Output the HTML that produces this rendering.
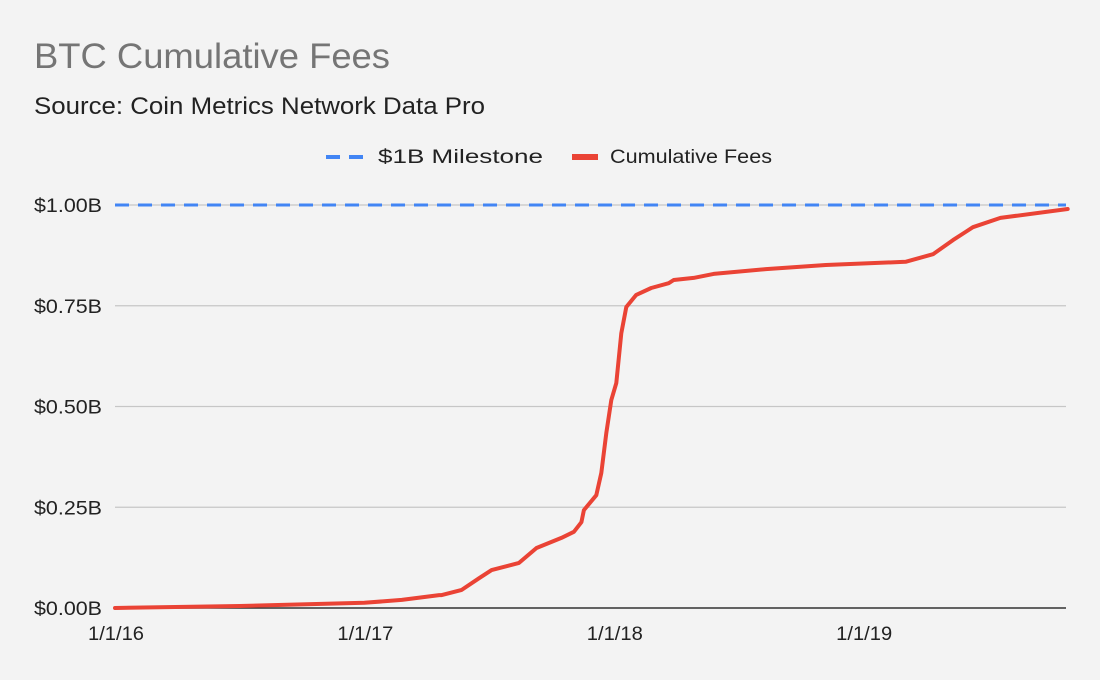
<!DOCTYPE html>
<html><head><meta charset="utf-8">
<style>
body{margin:0;background:#f3f3f3;font-family:"Liberation Sans",Arial,sans-serif;}
svg{display:block}
</style></head>
<body>
<svg id="chart" width="1100" height="680" viewBox="0 0 1100 680">
<rect width="1100" height="680" fill="#f3f3f3"/>
<text x="34" y="68" font-size="35" fill="#757575" textLength="356" lengthAdjust="spacingAndGlyphs">BTC Cumulative Fees</text>
<text x="34" y="114" font-size="24" fill="#222" textLength="451" lengthAdjust="spacingAndGlyphs">Source: Coin Metrics Network Data Pro</text>
<g>
 <g>
  <line x1="326" y1="157" x2="366" y2="157" stroke="#4285f4" stroke-width="4" stroke-dasharray="14,9"/>
  <text x="378" y="163" font-size="19" fill="#222" textLength="165" lengthAdjust="spacingAndGlyphs">$1B Milestone</text>
 </g>
 <g>
  <line x1="572" y1="157" x2="598" y2="157" stroke="#ea4335" stroke-width="6"/>
  <text x="610" y="163" font-size="19" fill="#222" textLength="162" lengthAdjust="spacingAndGlyphs">Cumulative Fees</text>
 </g>
</g>
<g id="grid"></g>
<g id="plot"></g>
</svg>
<script>
const yTicks=[0,0.25,0.5,0.75,1.0];
const yTickLabels=["$0.00B","$0.25B","$0.50B","$0.75B","$1.00B"];
const xTicks=[2016,2017,2018,2019];
const xTickLabels=["1/1/16","1/1/17","1/1/18","1/1/19"];
const milestone=1.0;
const dates=[2016.0,2016.5,2017.0,2017.15,2017.3,2017.31,2017.39,2017.46,2017.51,2017.62,2017.69,2017.79,2017.84,2017.87,2017.88,2017.93,2017.95,2017.97,2017.99,2018.01,2018.03,2018.05,2018.09,2018.15,2018.22,2018.24,2018.32,2018.4,2018.61,2018.85,2019.17,2019.28,2019.36,2019.41,2019.44,2019.55,2019.82];
const fees=[0.0,0.005,0.013,0.02,0.032,0.032,0.045,0.074,0.094,0.112,0.149,0.174,0.189,0.213,0.243,0.28,0.335,0.434,0.516,0.558,0.682,0.747,0.777,0.794,0.806,0.814,0.819,0.829,0.841,0.851,0.859,0.878,0.913,0.933,0.945,0.968,0.99];
const NS="http://www.w3.org/2000/svg";
const L=115,R=1066,T=205,B=608;
const xs=d=>L+(d-2016)*249.4;
const ys=v=>B-(v/1.0)*(B-T);
const grid=document.getElementById('grid'),plot=document.getElementById('plot');
function mk(tag,attrs,parent){const e=document.createElementNS(NS,tag);for(const k in attrs)e.setAttribute(k,attrs[k]);parent.appendChild(e);return e;}
yTicks.forEach((t,i)=>{
 const gl=mk('line',{x1:L,x2:R,y1:ys(t),y2:ys(t),stroke:i==0?'#333':'#c6c6c6','stroke-width':i==0?1.5:1.2},grid);
 
 
 const tx=mk('text',{x:34,y:ys(t)+7,'font-size':19,fill:'#222',textLength:68,lengthAdjust:'spacingAndGlyphs'},grid);
 tx.textContent=yTickLabels[i];
 
 
});
xTicks.forEach((t,i)=>{
 const tx=mk('text',{x:xs(t)-27,y:640,'font-size':19,fill:'#222',textLength:56,lengthAdjust:'spacingAndGlyphs'},grid);
 tx.textContent=xTickLabels[i];
 
 
});
const ml=mk('line',{x1:L,x2:R,y1:ys(milestone),y2:ys(milestone),stroke:'#4285f4','stroke-width':3,'stroke-dasharray':'14,9'},plot);


const pts=dates.map((d,i)=>xs(d).toFixed(1)+','+ys(fees[i]).toFixed(1)).join(' ');
const pl=mk('polyline',{points:pts,fill:'none',stroke:'#ea4335','stroke-width':4,'stroke-linejoin':'round','stroke-linecap':'round'},plot);


</script>
</body></html>
